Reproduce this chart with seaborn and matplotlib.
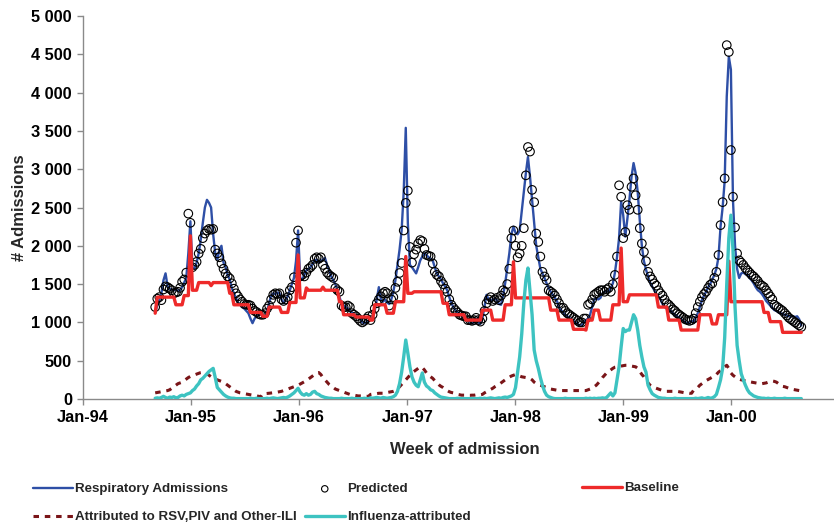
import numpy as np
import pandas as pd
import matplotlib
matplotlib.use("Agg")
import matplotlib.pyplot as plt
import matplotlib.dates as mdates
from matplotlib.ticker import FuncFormatter, MultipleLocator
import seaborn as sns

# ---------------- data (weekly, Sep-1994 .. Aug-2000) ----------------
start_date = "1994-09-02"

respiratory = [
    1130, 1220, 1290, 1380, 1550, 1640, 1470, 1440, 1430, 1420, 1430, 1410, 1420, 1460, 1520, 1580, 1900, 2320, 1720, 1700, 1780, 1900, 2080, 2300, 2500, 2600, 2560, 2500, 2150, 1900, 1820, 1950, 2000, 1780, 1720, 1620, 1560, 1450, 1380, 1320, 1260, 1230, 1200, 1180, 1150, 1120, 1050, 990, 1050, 1080, 1100, 1110,
    1090, 1060, 1150, 1250, 1350, 1380, 1370, 1390, 1380, 1300, 1250, 1300, 1340, 1420, 1500, 1580, 1800, 2200, 1580, 1560, 1620, 1680, 1700, 1720, 1760, 1810, 1820, 1780, 1800, 1820, 1840, 1750, 1680, 1600, 1550, 1500, 1420, 1330, 1250, 1220, 1200, 1180, 1150, 1130, 1110, 1090, 1070, 1050, 1000, 990, 1000, 1020,
    1030, 1060, 1150, 1300, 1460, 1300, 1270, 1300, 1260, 1240, 1300, 1400, 1550, 1750, 1950, 2200, 2700, 3540, 2300, 1750, 1720, 1680, 1640, 1720, 1810, 1860, 1900, 1880, 1850, 1830, 1810, 1720, 1640, 1600, 1560, 1510, 1470, 1420, 1330, 1250, 1200, 1160, 1130, 1110, 1090, 1070, 1060, 1030, 1000, 990, 1000, 1050,
    1000, 980, 1050, 1200, 1360, 1300, 1280, 1300, 1310, 1290, 1240, 1230, 1350, 1510, 1700, 1900, 2150, 2250, 2170, 2150, 2200, 2450, 2700, 2950, 3160, 2900, 2600, 2300, 2000, 1850, 1700, 1640, 1580, 1510, 1450, 1400, 1360, 1320, 1280, 1200, 1160, 1130, 1100, 1080, 1060, 1040, 1020, 1000, 980, 960, 960, 1000,
    1030, 1050, 1100, 1200, 1300, 1310, 1300, 1320, 1380, 1400, 1410, 1400, 1450, 1510, 1650, 1850, 2100, 2580, 2400, 2120, 2350, 2600, 2900, 3080, 2950, 2700, 2330, 2000, 1800, 1690, 1600, 1520, 1470, 1420, 1370, 1340, 1300, 1240, 1200, 1180, 1160, 1150, 1120, 1100, 1080, 1060, 1040, 1020, 1000, 990, 1000, 1020,
    1000, 1060, 1120, 1200, 1290, 1350, 1400, 1460, 1500, 1560, 1620, 1700, 1850, 2250, 2500, 2850, 3950, 4470, 4300, 2600, 2000, 1700, 1580, 1640, 1650, 1630, 1620, 1580, 1550, 1510, 1460, 1420, 1400, 1370, 1330, 1280, 1250, 1220, 1190, 1160, 1150, 1130, 1120, 1110, 1100, 1090, 1080, 1080, 1080, 1070, 1080, 1040, 960,
]

predicted = [
    1200, 1310, 1330, 1290, 1430, 1470, 1460, 1440, 1420, 1380, 1390, 1400, 1450, 1530, 1560, 1650, 2420, 2300, 1720, 1750, 1790, 1900, 1960, 2100, 2160, 2200, 2220, 2210, 2220, 1950, 1900, 1850, 1770, 1700, 1640, 1600, 1575, 1510, 1440, 1380, 1340, 1300, 1270, 1240, 1230, 1230, 1220, 1180, 1150, 1135, 1110, 1100,
    1100, 1120, 1180, 1220, 1300, 1360, 1380, 1370, 1380, 1300, 1280, 1300, 1330, 1420, 1460, 1590, 2040, 2200, 1600, 1620, 1600, 1650, 1700, 1720, 1750, 1830, 1850, 1830, 1850, 1750, 1700, 1650, 1620, 1600, 1580, 1450, 1420, 1400, 1220, 1200, 1200, 1220, 1200, 1120, 1100, 1080, 1050, 1020, 1000, 1020, 1050, 1080,
    1030, 1100, 1180, 1250, 1300, 1340, 1380, 1400, 1380, 1220, 1300, 1330, 1450, 1530, 1645, 1775, 2200, 2560, 2720, 1985, 1780, 1890, 1950, 2030, 2075, 2060, 1960, 1880, 1870, 1860, 1770, 1660, 1620, 1600, 1540, 1500, 1440, 1400, 1300, 1230, 1190, 1160, 1130, 1100, 1090, 1080, 1080, 1030, 1030, 1020, 1030, 1060,
    1030, 1010, 1050, 1150, 1250, 1300, 1330, 1280, 1300, 1320, 1290, 1350, 1420, 1400, 1500, 1700, 2100, 2200, 2000, 1850, 1900, 2000, 2230, 2920, 3290, 3230, 2730, 2570, 2160, 2050, 1860, 1660, 1600, 1550, 1420, 1400, 1380, 1350, 1300, 1250, 1190, 1190, 1150, 1120, 1100, 1080, 1060, 1040, 1020, 1000, 1000, 1050,
    1050, 1230, 1250, 1300, 1360, 1380, 1400, 1420, 1420, 1400, 1430, 1450, 1400, 1500, 1620, 1860, 2790, 2640, 2100, 2180, 2530, 2470, 2770, 2880, 2660, 2470, 2230, 2030, 1920, 1800, 1660, 1600, 1560, 1510, 1480, 1420, 1380, 1350, 1300, 1250, 1230, 1200, 1170, 1150, 1120, 1100, 1080, 1060, 1040, 1030, 1020, 1030,
    1050, 1120, 1200, 1270, 1330, 1370, 1400, 1450, 1490, 1510, 1580, 1660, 1880, 2270, 2570, 2880, 4620, 4530, 3250, 2640, 2240, 1900, 1810, 1780, 1750, 1710, 1680, 1650, 1620, 1600, 1570, 1540, 1500, 1480, 1460, 1420, 1380, 1340, 1300, 1230, 1210, 1190, 1170, 1150, 1120, 1090, 1060, 1040, 1020, 1000, 980, 960, 940,
]

baseline = (
    [1120] + [1330] * 9 + [1230] * 4 + [1350] * 3 + [2130] + [1420] * 3 + [1520] * 6 + [1480] + [1520] * 8 + [1380] * 2 + [1230] * 8 + [1130] * 6
    + [1080] * 3 + [1200] * 6 + [1130] * 4 + [1260] * 4 + [1880] + [1320] * 3 + [1450] + [1420] * 7 + [1460] + [1420] * 7 + [1270] * 2 + [1100] * 6 + [1070] * 7
    + [1030] * 2 + [1230] * 6 + [1120] * 4 + [1270] * 5 + [1860] + [1380] * 3 + [1400] * 14 + [1250] * 3 + [1100] * 8 + [1030] * 6
    + [1030] * 2 + [1160] * 5 + [1030] * 6 + [1230] * 4 + [1790] + [1320] * 17 + [1160] * 4 + [1030] * 7 + [910] * 6
    + [900] + [1030] * 3 + [1160] * 3 + [1030] * 6 + [1230] * 4 + [1970] + [1270] * 3 + [1360] * 14 + [1200] * 5 + [1030] * 6 + [900] * 6
    + [900] * 3 + [1100] * 6 + [980] * 3 + [1100] * 5 + [1800] + [1270] * 16 + [1130] * 3 + [1010] * 6 + [870] * 10
)

rsv_piv_ili = [
    80, 85, 90, 95, 100, 105, 110, 120, 140, 160, 180, 200, 210, 220, 240, 260, 280, 295, 305, 315, 325, 335, 345, 350, 345, 330, 310, 290, 275, 260, 250, 240, 230, 215, 200, 180, 160, 140, 120, 100, 90, 80, 75, 70, 65, 60, 55, 50, 45, 40, 35, 30,
    70, 70, 72, 75, 78, 80, 85, 90, 95, 100, 110, 120, 130, 140, 150, 160, 170, 180, 195, 210, 225, 240, 260, 280, 300, 320, 340, 345, 320, 280, 250, 220, 190, 170, 150, 130, 120, 110, 100, 90, 80, 70, 60, 55, 50, 45, 40, 40, 38, 36, 35, 35,
    60, 65, 70, 70, 75, 75, 75, 80, 85, 90, 95, 100, 110, 130, 160, 190, 220, 250, 280, 310, 340, 360, 380, 400, 420, 410, 380, 340, 310, 290, 270, 240, 210, 185, 165, 150, 130, 110, 95, 85, 80, 70, 60, 55, 50, 50, 50, 48, 48, 50, 50, 55,
    50, 55, 60, 80, 95, 110, 125, 140, 160, 175, 190, 210, 230, 250, 270, 285, 300, 310, 320, 310, 300, 290, 285, 280, 275, 270, 250, 220, 200, 190, 180, 170, 160, 150, 140, 130, 125, 120, 115, 110, 110, 110, 110, 110, 110, 110, 110, 110, 110, 110, 110, 110,
    110, 120, 130, 145, 160, 180, 210, 240, 280, 310, 340, 360, 380, 400, 415, 420, 425, 430, 435, 440, 440, 440, 430, 425, 420, 400, 360, 320, 290, 250, 210, 180, 160, 150, 140, 130, 120, 110, 105, 100, 100, 100, 100, 100, 100, 95, 90, 85, 80, 80, 75, 75,
    115, 130, 150, 180, 200, 220, 240, 255, 270, 285, 300, 320, 350, 370, 390, 420, 440, 400, 340, 310, 290, 270, 260, 250, 245, 235, 230, 225, 220, 215, 210, 205, 200, 200, 205, 210, 220, 230, 235, 230, 220, 200, 180, 165, 160, 150, 140, 130, 125, 120, 115, 110, 105,
]

influenza = [
    10, 15, 10, 20, 35, 20, 10, 25, 20, 30, 15, 20, 40, 50, 40, 60, 70, 80, 110, 130, 170, 200, 250, 270, 300, 330, 360, 380, 400, 280, 150, 120, 90, 60, 40, 25, 15, 10, 10, 5, 5, 5, 5, 5, 5, 5, 10, 5, 5, 10, 5, 5,
    5, 5, 10, 5, 10, 15, 10, 5, 10, 15, 20, 15, 25, 40, 60, 80, 110, 140, 90, 60, 50, 70, 50, 60, 90, 100, 70, 60, 40, 30, 20, 15, 10, 10, 5, 5, 5, 5, 10, 5, 5, 5, 5, 10, 5, 5, 5, 5, 5, 10, 5, 5,
    15, 10, 15, 20, 15, 10, 20, 15, 10, 15, 20, 30, 50, 100, 200, 350, 550, 770, 600, 420, 290, 220, 180, 160, 250, 340, 220, 170, 150, 120, 110, 80, 60, 40, 25, 20, 15, 10, 5, 5, 5, 5, 10, 5, 5, 5, 5, 5, 5, 5, 5, 5,
    5, 10, 5, 10, 5, 10, 15, 10, 5, 10, 15, 10, 20, 25, 20, 30, 40, 60, 150, 350, 550, 850, 1250, 1550, 1710, 1400, 1100, 640, 500, 400, 280, 180, 100, 50, 30, 20, 10, 5, 5, 5, 5, 5, 10, 5, 5, 5, 5, 5, 5, 5, 5, 5,
    10, 5, 10, 5, 10, 5, 10, 10, 15, 10, 20, 50, 80, 40, 80, 250, 420, 680, 920, 880, 900, 900, 1000, 1100, 1050, 900, 700, 550, 420, 350, 180, 120, 70, 50, 35, 20, 15, 10, 10, 5, 5, 5, 5, 10, 5, 5, 5, 5, 5, 5, 5, 5,
    5, 10, 5, 10, 15, 5, 10, 20, 10, 15, 30, 60, 150, 250, 400, 800, 1500, 2100, 2400, 1950, 1200, 700, 500, 330, 250, 180, 120, 80, 60, 40, 30, 20, 15, 10, 10, 5, 10, 5, 5, 10, 5, 5, 5, 5, 10, 5, 5, 5, 5, 5, 5, 5, 5,
]

labels = ["Respiratory Admissions", "Predicted", "Baseline",
          "Attributed to RSV,PIV and Other-ILI", "Influenza-attributed"]

n = len(respiratory)
weeks = pd.date_range(start_date, periods=n, freq="7D")
df = pd.DataFrame({
    "week": weeks,
    "resp": respiratory,
    "pred": predicted[:n],
    "base": baseline[:n],
    "rsv": rsv_piv_ili[:n],
    "flu": influenza[:n],
})

# ---------------- styling ----------------
sns.set_theme(style="ticks")
plt.rcParams["font.family"] = ["Liberation Sans", "DejaVu Sans"]
plt.rcParams["font.weight"] = "bold"

W, H = 834, 525
fig = plt.figure(figsize=(W / 100, H / 100), dpi=100)
ax = fig.add_axes([83 / W, (H - 399) / H, (833 - 83) / W, (399 - 16) / H])

c_blue = "#2E4FA6"
c_red = "#EE2A2A"
c_rsv = "#7A1518"
c_flu = "#3DC3C1"

sns.lineplot(data=df, x="week", y="resp", color=c_blue, linewidth=1.7,
             label=labels[0], ax=ax, zorder=2)
sns.scatterplot(data=df, x="week", y="pred", marker="o", s=38,
                facecolors="none", edgecolor="black", linewidth=0.8,
                label=labels[1], ax=ax, zorder=3)
sns.lineplot(data=df, x="week", y="base", color=c_red, linewidth=2.4,
             label=labels[2], ax=ax, zorder=4)
sns.lineplot(data=df, x="week", y="rsv", color=c_rsv, linewidth=2.2,
             label=labels[3], ax=ax, zorder=5)
ax.lines[-1].set_dashes([1.8, 1.9])
sns.lineplot(data=df, x="week", y="flu", color=c_flu, linewidth=2.4,
             label=labels[4], ax=ax, zorder=6)

if ax.get_legend() is not None:
    ax.get_legend().remove()

# axes
x0 = pd.Timestamp("1994-01-01")
ax.set_xlim(x0, x0 + pd.Timedelta(days=(833 - 82.7) / 108.1 * 365.25))
ax.set_ylim(0, 5000)
ax.yaxis.set_major_locator(MultipleLocator(500))
ax.yaxis.set_major_formatter(FuncFormatter(lambda v, p: f"{int(v):,}".replace(",", " ")))
ax.xaxis.set_major_locator(mdates.YearLocator(month=1, day=1))
ax.xaxis.set_major_formatter(mdates.DateFormatter("%b-%y"))

for s in ["top", "right"]:
    ax.spines[s].set_visible(False)
for s in ["left", "bottom"]:
    ax.spines[s].set_color("#8a8a8a")
    ax.spines[s].set_linewidth(1.0)
ax.tick_params(axis="both", direction="out", length=4, width=1.0, color="#8a8a8a",
               labelsize=11.8, pad=4, labelcolor="black")
for t in ax.get_xticklabels() + ax.get_yticklabels():
    t.set_fontweight("bold")

ax.set_xlabel("Week of admission", fontsize=12, fontweight="bold")
ax.set_ylabel("# Admissions", fontsize=12, fontweight="bold")
ax.xaxis.set_label_coords((465 - 83) / 750, -0.112)
ax.yaxis.set_label_coords((27 - 83) / 750, 0.5)
ax.grid(False)

# legend
handles, labs = ax.get_legend_handles_labels()
hmap = dict(zip(labs, handles))
leg_kw = dict(frameon=False, borderpad=0, borderaxespad=0,
              handlelength=3.0, handletextpad=0.15, labelspacing=1.17,
              markerscale=0.75, prop={"weight": "bold", "size": 9.6})
legA = fig.legend([hmap[labels[0]], hmap[labels[3]], hmap[labels[1]], hmap[labels[4]]],
                  [labels[0], labels[3], labels[1], labels[4]],
                  ncol=2, loc="upper left", bbox_to_anchor=(33 / W, 1 - 483 / H),
                  columnspacing=0.6, **leg_kw)
legB = fig.legend([hmap[labels[2]]], [labels[2]], loc="upper left",
                  bbox_to_anchor=(582 / W, 1 - 482 / H), **leg_kw)

fig.savefig("out.png", dpi=100, facecolor="white")
